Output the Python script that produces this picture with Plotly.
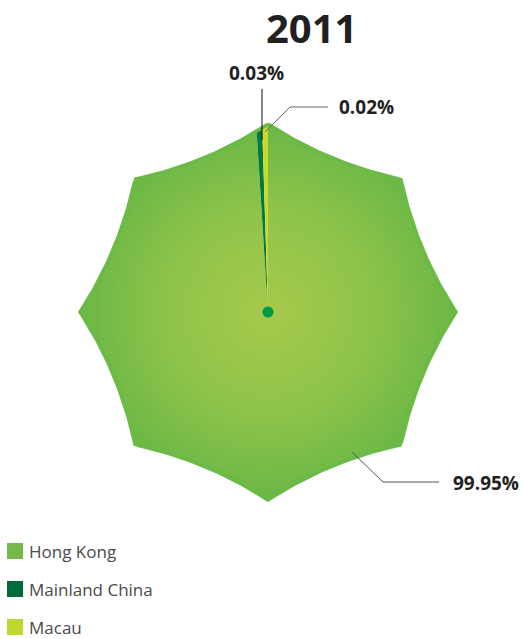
import numpy as np
import plotly.graph_objects as go

# ---- data ----
title = "2011"
regions = ["Hong Kong", "Mainland China", "Macau"]
shares = [99.95, 0.03, 0.02]
labels = ["99.95%", "0.03%", "0.02%"]
colors = ["#76b84a", "#007a3d", "#c9da2a"]
legend_colors = ["#77b84a", "#006b3a", "#bfd730"]

# ---- geometry / style ----
W, H = 523, 639
CX, CY, RPX = 268, 312, 188      # centre and outer radius in pixels
N_POINTS = 8
SAG = 0.036                      # inward bow of each edge (fraction of R)
MIN_SWEEP = 1.8                  # degrees, minimum visible sweep for tiny slices


def px(x, y):
    return (x - CX) / RPX, (CY - y) / RPX


tips = np.deg2rad(np.arange(N_POINTS + 1) * 360 / N_POINTS)


def tip_xy(a):
    return np.array([np.sin(a), np.cos(a)])


def star_r(theta):
    seg = min(int(np.floor((theta % (2 * np.pi)) / (2 * np.pi / N_POINTS))), N_POINTS - 1)
    a, b = tips[seg], tips[seg + 1]
    pa, pb = tip_xy(a), tip_xy(b)
    m = (pa + pb) / 2
    h = np.linalg.norm(pb - pa) / 2
    u = m / np.linalg.norm(m)
    rho = (h * h + SAG * SAG) / (2 * SAG)
    c = m + (rho - SAG) * u
    d = tip_xy(theta)
    dc = d @ c
    return dc - np.sqrt(dc * dc - c @ c + rho * rho)


def boundary(t1, t2):
    step = np.deg2rad(0.4)
    ths = list(np.arange(t1, t2, step)) + [t2]
    ths += [t for t in tips if t1 < t < t2]
    ths = sorted(ths)
    xs, ys = [], []
    for t in ths:
        r = star_r(t)
        xs.append(r * np.sin(t))
        ys.append(r * np.cos(t))
    return xs, ys


# slice sweeps (clockwise from top)
total = sum(shares)
sweeps = [max(v / total * 360, MIN_SWEEP) for v in shares]
sweeps[0] = 360 - sum(sweeps[1:])

fig = go.Figure()
start = 0.0
for i, (name, sw) in enumerate(zip(regions, sweeps)):
    t1, t2 = np.deg2rad(start), np.deg2rad(start + sw)
    bx, by = boundary(t1, t2)
    xs = [0] + bx + [0]
    ys = [0] + by + [0]
    kw = dict(fillcolor=colors[i])
    if i == 0:
        kw = dict(fillgradient=dict(type="radial",
                                    colorscale=[[0, "#a6ca4b"], [0.55, "#8ec34a"], [1, "#6ab745"]]))
    fig.add_trace(go.Scatter(x=xs, y=ys, mode="lines", fill="toself",
                             line=dict(width=0, color=colors[i]),
                             hoverinfo="text", text=f"{name}: {labels[i]}",
                             showlegend=False, **kw))
    start += sw

# outline
ox, oy = boundary(0, 2 * np.pi)
fig.add_trace(go.Scatter(x=ox, y=oy, mode="lines", line=dict(color="#6bb946", width=3.5),
                         hoverinfo="skip", showlegend=False))
# centre dot
fig.add_trace(go.Scatter(x=[0], y=[0], mode="markers",
                         marker=dict(size=11, color="#009a44"),
                         hoverinfo="skip", showlegend=False))

# legend (drawn manually: square swatch + text)
LEG_X, LEG_Y0, LEG_DY, SW = 7, 551, 38, 16
for i, name in enumerate(regions):
    yc = LEG_Y0 + i * LEG_DY
    fig.add_shape(type="rect", xref="paper", yref="paper",
                  x0=LEG_X / W, x1=(LEG_X + SW) / W,
                  y0=1 - (yc + SW / 2) / H, y1=1 - (yc - SW / 2) / H,
                  fillcolor=legend_colors[i], line=dict(width=0))
    fig.add_annotation(xref="paper", yref="paper", x=27 / W, y=1 - yc / H,
                       text=name, showarrow=False, xanchor="left", yanchor="middle",
                       font=dict(family="Open Sans", size=17, color="#4a4a4a"))

# labels + leader lines
label_pos = [(486, 483), (256, 73), (366, 107)]
for lab, (lx, ly) in zip(labels, label_pos):
    x, y = px(lx, ly)
    fig.add_annotation(x=x, y=y, text=f"<b>{lab}</b>", showarrow=False,
                       xanchor="center", yanchor="middle",
                       font=dict(family="Open Sans", size=19, color="#231f20"))

leaders = [
    ([(439, 482), (383, 482), (352, 452)], "#555555"),
    ([(262, 89), (262, 140)], "#111111"),
    ([(328, 107), (290, 107), (265, 132)], "#666666"),
]
for pts, col in leaders:
    for (x0, y0), (x1, y1) in zip(pts[:-1], pts[1:]):
        a0, b0 = px(x0, y0)
        a1, b1 = px(x1, y1)
        fig.add_shape(type="line", x0=a0, y0=b0, x1=a1, y1=b1,
                      line=dict(color=col, width=1), xref="x", yref="y")

tx, ty = px(311, 27)
fig.add_annotation(x=tx, y=ty, text=f"<b>{title}</b>", showarrow=False,
                   xanchor="center", yanchor="middle",
                   font=dict(family="Open Sans", size=40, color="#231f20"))

fig.update_layout(
    width=W, height=H,
    margin=dict(l=0, r=0, t=0, b=0),
    paper_bgcolor="white", plot_bgcolor="white",
    xaxis=dict(range=[(0 - CX) / RPX, (W - CX) / RPX], visible=False, fixedrange=True),
    yaxis=dict(range=[(CY - H) / RPX, CY / RPX], visible=False, fixedrange=True),
    showlegend=False,
)

fig.write_html("out.html")
